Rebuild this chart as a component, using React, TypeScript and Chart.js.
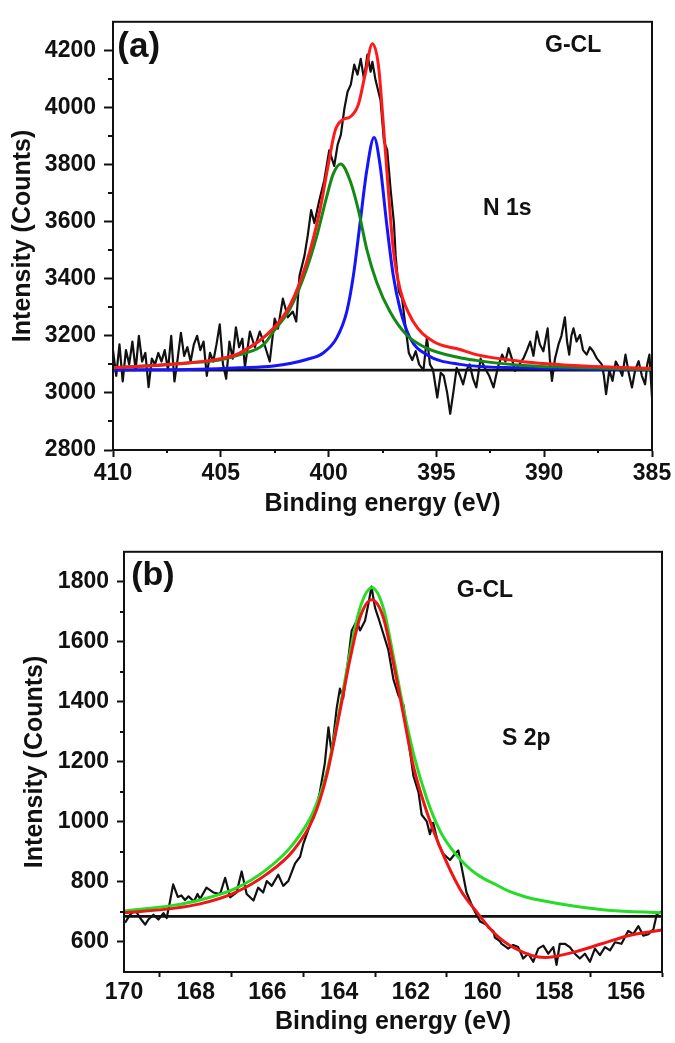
import React, { useEffect, useRef } from 'react';
import { Chart, registerables } from 'chart.js';

Chart.register(...registerables);

const FONT = '"Liberation Sans", Arial, Helvetica, sans-serif';
const INK = '#111111';

// ---------- Panel (a): N 1s ----------
const n1sXTicks = [410, 405, 400, 395, 390, 385];
const n1sXMinor = [407.5, 402.5, 397.5, 392.5, 387.5];
const n1sYTicks = [2800, 3000, 3200, 3400, 3600, 3800, 4000, 4200];
const n1sYMinor = [2900, 3100, 3300, 3500, 3700, 3900, 4100];

const n1sRaw: [number, number][] = [
  [410.0, 3150], [409.85, 3060], [409.7, 3170], [409.55, 3040], [409.4, 3150], [409.25, 3100],
  [409.1, 3180], [408.95, 3080], [408.8, 3200], [408.65, 3110], [408.5, 3140], [408.35, 3020],
  [408.2, 3120], [408.05, 3100], [407.9, 3140], [407.75, 3110], [407.6, 3150], [407.45, 3080],
  [407.3, 3200], [407.15, 3040], [407.0, 3120], [406.85, 3210], [406.7, 3130], [406.55, 3160],
  [406.4, 3110], [406.25, 3170], [406.1, 3200], [405.95, 3150], [405.8, 3180], [405.65, 3060],
  [405.5, 3140], [405.35, 3110], [405.2, 3170], [405.05, 3240], [404.9, 3100], [404.75, 3050],
  [404.6, 3180], [404.45, 3120], [404.3, 3230], [404.15, 3160], [404.0, 3190], [403.88, 3090],
  [403.65, 3215], [403.42, 3160], [403.19, 3215], [402.96, 3166], [402.73, 3110], [402.5, 3260],
  [402.35, 3225], [402.12, 3330], [401.89, 3265], [401.66, 3285], [401.5, 3250], [401.35, 3410],
  [401.12, 3480], [400.97, 3550], [400.81, 3640], [400.66, 3595], [400.43, 3675], [400.2, 3745],
  [399.97, 3850], [399.74, 3795], [399.58, 3870], [399.43, 3905], [399.27, 3995], [399.12, 4055],
  [398.97, 4080], [398.81, 4150], [398.66, 4115], [398.51, 4170], [398.36, 4100], [398.2, 4185],
  [398.05, 4125], [397.97, 4160], [397.82, 4095], [397.59, 4025], [397.43, 3880], [397.28, 3850],
  [397.12, 3710], [396.97, 3595], [396.89, 3480], [396.74, 3355], [396.59, 3330], [396.43, 3230],
  [396.28, 3140], [396.12, 3115], [395.96, 3146], [395.8, 3100], [395.6, 3080], [395.44, 3195],
  [395.3, 3100], [395.16, 3082], [394.96, 2984], [394.8, 3070], [394.66, 3060], [394.5, 3000],
  [394.36, 2927], [394.2, 3010], [394.06, 3088], [393.9, 3060], [393.76, 3030], [393.6, 3080],
  [393.46, 3100], [393.3, 3050], [393.15, 3019], [392.95, 3120], [392.76, 3088], [392.55, 3060],
  [392.35, 3019], [392.15, 3090], [391.95, 3134], [391.8, 3110], [391.65, 3157], [391.5, 3120],
  [391.35, 3077], [391.15, 3100], [390.95, 3123], [390.8, 3150], [390.65, 3180], [390.5, 3130],
  [390.34, 3215], [390.2, 3170], [390.04, 3146], [389.84, 3226], [389.74, 3120], [389.64, 3042],
  [389.5, 3120], [389.34, 3169], [389.2, 3200], [389.04, 3265], [388.94, 3180], [388.84, 3134],
  [388.74, 3200], [388.64, 3226], [388.5, 3180], [388.34, 3203], [388.2, 3150], [388.03, 3134],
  [387.88, 3160], [387.73, 3146], [387.55, 3120], [387.33, 3100], [387.23, 3060], [387.13, 2996],
  [386.98, 3080], [386.83, 3042], [386.68, 3110], [386.53, 3088], [386.38, 3060], [386.23, 3134],
  [386.08, 3070], [385.93, 3019], [385.78, 3080], [385.62, 3111], [385.47, 3060], [385.32, 3030],
  [385.22, 3100], [385.12, 3134], [385.0, 2984],
];

const n1sEnvelope: [number, number][] = [
  [410, 3088], [407.21, 3100], [405, 3120], [404.11, 3140], [402.56, 3226], [401.79, 3307],
  [401.02, 3457], [400.4, 3641], [400.01, 3802], [399.7, 3918], [399.32, 3958], [399.01, 3966],
  [398.62, 4010], [398.31, 4114], [397.97, 4223], [397.69, 4148], [397.46, 3941], [397.23, 3710],
  [397.0, 3503], [396.69, 3365], [396.07, 3249], [395.14, 3180], [393.91, 3152], [393.15, 3134],
  [391.15, 3111], [388.14, 3094], [385, 3086],
];

const n1sPeakGreen: [number, number][] = [
  [410, 3088], [408, 3097], [406, 3108], [405, 3116], [404.11, 3134], [403, 3170], [402.56, 3215],
  [401.79, 3295], [401.02, 3434], [400.55, 3549], [400.09, 3687], [399.78, 3768], [399.44, 3802],
  [399.01, 3745], [398.62, 3641], [398.23, 3503], [397.77, 3388], [397.15, 3284], [396.38, 3203],
  [395.45, 3157], [393.91, 3123], [393.16, 3114], [391.15, 3097], [388, 3088], [385, 3082],
];

const n1sPeakBlue: [number, number][] = [
  [410, 3080], [406, 3083], [404.11, 3088], [402.56, 3094], [401.02, 3117], [400.25, 3140],
  [399.63, 3192], [399.16, 3284], [398.85, 3411], [398.54, 3595], [398.23, 3779], [397.89, 3895],
  [397.62, 3802], [397.31, 3595], [397.0, 3411], [396.69, 3295], [396.22, 3192], [395.45, 3134],
  [393.91, 3100], [391.15, 3088], [385, 3081],
];

const n1sBaseline: [number, number][] = [[410, 3080], [385, 3080]];

// ---------- Panel (b): S 2p ----------
const s2pXLabels = [170, 168, 166, 164, 162, 160, 158, 156];
const s2pXMajor = [169, 167, 165, 163, 161, 159, 157, 155];
const s2pYTicks = [600, 800, 1000, 1200, 1400, 1600, 1800];
const s2pYMinor = [700, 900, 1100, 1300, 1500, 1700];

const s2pRaw: [number, number][] = [
  [169.97, 664], [169.83, 691], [169.69, 707], [169.55, 680], [169.41, 658], [169.32, 675],
  [169.18, 691], [169.04, 675], [168.9, 696], [168.81, 680], [168.72, 734], [168.63, 792],
  [168.5, 750], [168.4, 755], [168.3, 740], [168.2, 752], [168.05, 735], [167.95, 760],
  [167.88, 743], [167.7, 781], [167.51, 765], [167.32, 760], [167.18, 814], [167.04, 749],
  [166.86, 765], [166.72, 835], [166.58, 760], [166.39, 738], [166.26, 781], [166.12, 765],
  [166.02, 803], [165.88, 787], [165.7, 824], [165.56, 787], [165.42, 803], [165.23, 862],
  [165.09, 884], [165.0, 927], [164.81, 991], [164.67, 1035], [164.54, 1099], [164.4, 1196],
  [164.3, 1315], [164.21, 1229], [164.07, 1379], [163.98, 1444], [163.89, 1412], [163.75, 1541],
  [163.65, 1638], [163.51, 1670], [163.42, 1638], [163.28, 1670], [163.19, 1724], [163.1, 1784],
  [163.0, 1713], [162.91, 1681], [162.77, 1627], [162.63, 1573], [162.49, 1476], [162.35, 1422],
  [162.21, 1390], [162.07, 1272], [161.93, 1153], [161.79, 1099], [161.7, 1024], [161.56, 1002],
  [161.47, 959], [161.38, 997], [161.24, 927], [161.1, 894], [160.91, 873], [160.77, 894],
  [160.68, 905], [160.59, 851], [160.45, 765], [160.26, 711], [160.07, 668], [159.89, 657],
  [159.84, 648], [159.7, 636], [159.66, 615], [159.52, 603], [159.47, 594], [159.33, 582],
  [159.29, 578], [159.15, 590], [159.01, 583], [158.87, 545], [158.73, 561], [158.59, 534],
  [158.45, 578], [158.31, 588], [158.17, 561], [158.03, 583], [157.94, 524], [157.85, 594],
  [157.71, 594], [157.57, 583], [157.43, 561], [157.29, 545], [157.15, 561], [157.01, 534],
  [156.87, 578], [156.73, 556], [156.59, 583], [156.45, 572], [156.31, 599], [156.13, 594],
  [155.94, 637], [155.8, 626], [155.66, 653], [155.52, 621], [155.38, 626], [155.24, 642],
  [155.15, 691], [155.01, 702],
];

const s2pEnvelope: [number, number][] = [
  [170, 697], [168.63, 712], [167.88, 727], [166.95, 762], [166.02, 826], [165.28, 905],
  [164.72, 1013], [164.35, 1153], [163.98, 1368], [163.7, 1541], [163.42, 1681], [163.09, 1740],
  [162.77, 1681], [162.49, 1530], [162.21, 1357], [161.93, 1185], [161.56, 1034], [161.19, 916],
  [160.63, 776], [160.2, 705], [159.68, 630], [159.12, 580], [158.26, 548], [157.43, 567],
  [156.68, 594], [155.94, 621], [155.0, 640],
];

const s2pPeak: [number, number][] = [
  [170, 703], [168.63, 722], [167.88, 740], [166.95, 775], [166.02, 842], [165.28, 927],
  [164.72, 1034], [164.35, 1164], [163.98, 1379], [163.7, 1563], [163.42, 1713], [163.09, 1780],
  [162.77, 1713], [162.49, 1552], [162.21, 1379], [161.93, 1228], [161.56, 1078], [161.19, 970],
  [160.9, 915], [160.63, 876], [160.3, 838], [159.98, 812], [159.6, 789], [159.29, 770],
  [158.8, 750], [158.36, 738], [157.43, 719], [156.5, 706], [155.0, 697],
];

const s2pBaseline: [number, number][] = [[170, 685], [155, 685]];

// ---------- helpers ----------
const toXY = (arr: [number, number][]) => arr.map(([x, y]) => ({ x, y }));

const framePlugin = {
  id: 'frameExtras',
  afterDraw(chart: any, _args: any, opts: any) {
    const { ctx, chartArea: a } = chart;
    const xs = chart.scales.x;
    const ys = chart.scales.y;
    ctx.save();
    ctx.strokeStyle = INK;
    ctx.lineWidth = 2;
    ctx.strokeRect(a.left, a.top, a.right - a.left, a.bottom - a.top);
    ctx.beginPath();
    (opts.minorX || []).forEach((v: number) => {
      const px = Math.round(xs.getPixelForValue(v));
      ctx.moveTo(px, a.bottom);
      ctx.lineTo(px, a.bottom + opts.minorLenX);
    });
    (opts.minorY || []).forEach((v: number) => {
      const py = Math.round(ys.getPixelForValue(v));
      ctx.moveTo(a.left - opts.minorLenY, py);
      ctx.lineTo(a.left, py);
    });
    ctx.stroke();
    ctx.fillStyle = INK;
    ctx.textAlign = 'left';
    ctx.textBaseline = 'middle';
    (opts.labels || []).forEach((l: any) => {
      ctx.font = `bold ${l.size}px ${FONT}`;
      ctx.fillText(l.text, xs.getPixelForValue(l.x), ys.getPixelForValue(l.y));
    });
    ctx.restore();
  },
};

function lineDs(data: [number, number][], color: string, width: number, smooth: boolean) {
  return {
    data: toXY(data),
    borderColor: color,
    backgroundColor: color,
    borderWidth: width,
    pointRadius: 0,
    fill: false,
    tension: smooth ? 0.4 : 0,
    cubicInterpolationMode: smooth ? 'monotone' : 'default',
    borderJoinStyle: 'round',
  };
}

interface PanelSpec {
  datasets: any[];
  xMin: number; xMax: number;
  yMin: number; yMax: number;
  xTicks: number[]; xLabelSet: number[]; xTickMarkSet: number[];
  yTicks: number[];
  yWidth: number; xHeight: number;
  padTop: number; padRight: number;
  xTickLen: number; yTickLen: number;
  xTickPad: number; yTickPad: number;
  xTitlePad: number; yTitlePad: number;
  extras: any;
}

function makeConfig(p: PanelSpec): any {
  const tickFont = { family: FONT, size: 23, weight: 'bold' as const };
  const titleFont = { family: FONT, size: 25, weight: 'bold' as const };
  return {
    type: 'line',
    data: { datasets: p.datasets },
    plugins: [framePlugin],
    options: {
      responsive: false,
      animation: false,
      events: [],
      layout: { padding: { top: p.padTop, right: p.padRight, left: 0, bottom: 0 } },
      plugins: {
        legend: { display: false },
        tooltip: { enabled: false },
        frameExtras: p.extras,
      },
      scales: {
        x: {
          type: 'linear',
          reverse: true,
          min: p.xMin,
          max: p.xMax,
          afterBuildTicks: (s: any) => { s.ticks = p.xTicks.map((v) => ({ value: v })); },
          afterFit: (s: any) => { s.height = p.xHeight; },
          grid: {
            drawOnChartArea: false,
            drawTicks: true,
            tickLength: p.xTickLen,
            tickWidth: 2,
            tickColor: (c: any) => (c.tick && p.xTickMarkSet.includes(c.tick.value) ? INK : 'rgba(0,0,0,0)'),
          },
          border: { display: true, color: INK, width: 2 },
          ticks: {
            autoSkip: false,
            maxRotation: 0,
            padding: p.xTickPad,
            color: INK,
            font: tickFont,
            callback: (v: number) => (p.xLabelSet.includes(v) ? String(v) : ''),
          },
          title: {
            display: true,
            text: 'Binding energy (eV)',
            color: INK,
            font: titleFont,
            padding: { top: 0, bottom: p.xTitlePad },
          },
        },
        y: {
          type: 'linear',
          min: p.yMin,
          max: p.yMax,
          afterBuildTicks: (s: any) => { s.ticks = p.yTicks.map((v) => ({ value: v })); },
          afterFit: (s: any) => { s.width = p.yWidth; },
          grid: {
            drawOnChartArea: false,
            drawTicks: true,
            tickLength: p.yTickLen,
            tickWidth: 2,
            tickColor: INK,
          },
          border: { display: true, color: INK, width: 2 },
          ticks: {
            padding: p.yTickPad,
            color: INK,
            font: tickFont,
            callback: (v: number) => String(v),
          },
          title: {
            display: true,
            text: 'Intensity (Counts)',
            color: INK,
            font: titleFont,
            padding: { top: p.yTitlePad, bottom: 0 },
          },
        },
      },
    },
  };
}

function n1sSpec(): PanelSpec {
  return {
    datasets: [
      lineDs(n1sEnvelope, '#ff1a1a', 3, true),
      lineDs(n1sPeakGreen, '#148a14', 3, true),
      lineDs(n1sPeakBlue, '#1414ff', 3, true),
      lineDs(n1sBaseline, INK, 2.8, false),
      lineDs(n1sRaw, INK, 2.2, false),
    ],
    xMin: 385, xMax: 410, yMin: 2800, yMax: 4300,
    xTicks: n1sXTicks, xLabelSet: n1sXTicks, xTickMarkSet: n1sXTicks,
    yTicks: n1sYTicks,
    yWidth: 113, xHeight: 80,
    padTop: 16, padRight: 23,
    xTickLen: 7, yTickLen: 9,
    xTickPad: 3, yTickPad: 8,
    xTitlePad: 11, yTitlePad: 8,
    extras: {
      minorX: n1sXMinor, minorLenX: 3,
      minorY: n1sYMinor, minorLenY: 5,
      labels: [
        { text: '(a)', x: 409.8, y: 4212, size: 35 },
        { text: 'G-CL', x: 389.96, y: 4216, size: 23 },
        { text: 'N 1s', x: 392.84, y: 3647, size: 23 },
      ],
    },
  };
}

function s2pSpec(): PanelSpec {
  const xTicks = [...s2pXLabels, ...s2pXMajor].sort((a, b) => b - a);
  return {
    datasets: [
      lineDs(s2pEnvelope, '#f01414', 3, true),
      lineDs(s2pPeak, '#26dc26', 3, true),
      lineDs(s2pBaseline, INK, 2.8, false),
      lineDs(s2pRaw, INK, 2.2, false),
    ],
    xMin: 155, xMax: 170, yMin: 500, yMax: 1900,
    xTicks, xLabelSet: s2pXLabels, xTickMarkSet: s2pXMajor,
    yTicks: s2pYTicks,
    yWidth: 124, xHeight: 71,
    padTop: 9, padRight: 13,
    xTickLen: 5, yTickLen: 7,
    xTickPad: 2, yTickPad: 8,
    xTitlePad: 6, yTitlePad: 20,
    extras: {
      minorX: [], minorLenX: 0,
      minorY: s2pYMinor, minorLenY: 4,
      labels: [
        { text: '(b)', x: 169.8, y: 1819, size: 34 },
        { text: 'G-CL', x: 160.72, y: 1772, size: 23 },
        { text: 'S 2p', x: 159.46, y: 1276, size: 23 },
      ],
    },
  };
}

function Panel({ top, height, spec }: { top: number; height: number; spec: () => PanelSpec }) {
  const ref = useRef<HTMLCanvasElement | null>(null);
  useEffect(() => {
    if (!ref.current) return;
    const chart = new Chart(ref.current, makeConfig(spec()));
    return () => chart.destroy();
  }, [spec]);
  return (
    <canvas
      ref={ref}
      width={675}
      height={height}
      style={{ position: 'absolute', left: 0, top, width: 675, height, display: 'block' }}
    />
  );
}

export default function App() {
  return (
    <div style={{ position: 'absolute', left: 0, top: 0, width: 675, height: 1043, background: '#ffffff', overflow: 'hidden' }}>
      <Panel top={0} height={530} spec={n1sSpec} />
      <Panel top={530} height={513} spec={s2pSpec} />
    </div>
  );
}
